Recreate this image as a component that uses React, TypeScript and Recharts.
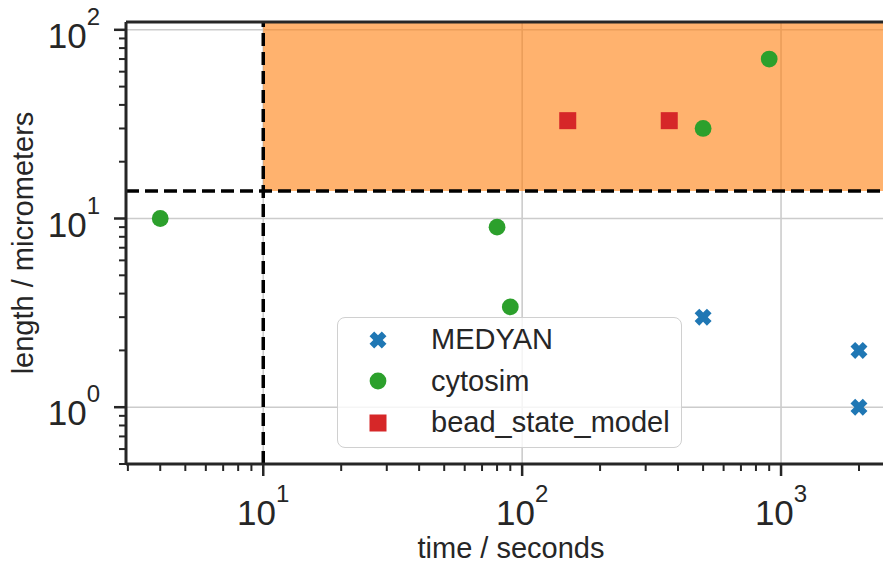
import React from "react";
import {
  ScatterChart,
  Scatter,
  XAxis,
  YAxis,
  ReferenceLine,
  ReferenceArea,
  Label,
} from "recharts";

// measured simulation runs: time in seconds, filament length in micrometers
const medyanTime = [500, 2000, 2000];
const medyanLength = [3, 2, 1];
const cytosimTime = [4, 80, 90, 500, 900];
const cytosimLength = [10, 9, 3.4, 30, 70];
const beadTime = [150, 370];
const beadLength = [33, 33];

// target regime: beyond these limits
const timeCutoff = 10;
const lengthCutoff = 14;

const xDomain = [2.95, 2780];
const yDomain = [0.5, 110];

const xMajorTicks = [10, 100, 1000];
const xMinorTicks = [3, 4, 5, 6, 7, 8, 9, 20, 30, 40, 50, 60, 70, 80, 90, 200, 300, 400, 500, 600, 700, 800, 900, 2000];
const yMajorTicks = [1, 10, 100];
const yMinorTicks = [0.5, 0.6, 0.7, 0.8, 0.9, 2, 3, 4, 5, 6, 7, 8, 9, 20, 30, 40, 50, 60, 70, 80, 90];

const FONT = '"Liberation Sans", Arial, Helvetica, sans-serif';
const INK = "#262626";
const GRID = "#cccccc";

const toPoints = (xs: number[], ys: number[]) => xs.map((x, i) => ({ x, y: ys[i] }));

function XMarker({ cx, cy, color }: { cx: number; cy: number; color: string }) {
  const t = 3.3;
  const l = 8.7;
  const pts = [
    [t, l], [t, t], [l, t], [l, -t], [t, -t], [t, -l],
    [-t, -l], [-t, -t], [-l, -t], [-l, t], [-t, t], [-t, l],
  ]
    .map(([a, b]) => `${cx + a},${cy + b}`)
    .join(" ");
  return <polygon points={pts} fill={color} transform={`rotate(45 ${cx} ${cy})`} />;
}

function CircleMarker({ cx, cy, color }: { cx: number; cy: number; color: string }) {
  return <circle cx={cx} cy={cy} r={8.4} fill={color} />;
}

function SquareMarker({ cx, cy, color }: { cx: number; cy: number; color: string }) {
  return <rect x={cx - 8.5} y={cy - 8.5} width={17} height={17} fill={color} />;
}

const series = [
  { name: "MEDYAN", color: "#1f77b4", Marker: XMarker, data: toPoints(medyanTime, medyanLength) },
  { name: "cytosim", color: "#2ca02c", Marker: CircleMarker, data: toPoints(cytosimTime, cytosimLength) },
  { name: "bead_state_model", color: "#d62728", Marker: SquareMarker, data: toPoints(beadTime, beadLength) },
];

function Pow10({ v }: { v: number }) {
  return (
    <>
      <tspan>10</tspan>
      <tspan dy={-23} fontSize={24}>
        {Math.round(Math.log10(v))}
      </tspan>
    </>
  );
}

function XTick(props: any) {
  const { x, y, payload } = props;
  const major = xMajorTicks.includes(payload.value);
  return (
    <g>
      <line x1={x} x2={x} y1={y} y2={y + (major ? 12 : 7)} stroke={INK} strokeWidth={major ? 2.5 : 2} />
      {major && (
        <text x={x} y={y + 61} textAnchor="middle" fontSize={35} fill={INK} fontFamily={FONT}>
          <Pow10 v={payload.value} />
        </text>
      )}
    </g>
  );
}

function YTick(props: any) {
  const { x, y, payload } = props;
  const major = yMajorTicks.includes(payload.value);
  return (
    <g>
      <line x1={x - (major ? 12 : 7)} x2={x} y1={y} y2={y} stroke={INK} strokeWidth={major ? 2.5 : 2} />
      {major && (
        <text x={x - 26} y={y + 18} textAnchor="end" fontSize={35} fill={INK} fontFamily={FONT}>
          <Pow10 v={payload.value} />
        </text>
      )}
    </g>
  );
}

function LegendBox() {
  return (
    <div
      style={{
        position: "absolute",
        left: 337,
        top: 316.5,
        width: 345,
        height: 131,
        boxSizing: "border-box",
        border: `1.5px solid #d0d0d0`,
        borderRadius: 8,
        background: "rgba(255,255,255,0.8)",
        fontFamily: FONT,
        color: INK,
      }}
    >
      {series.map((s, i) => {
        const cy = 22 + i * 41.5;
        return (
          <div key={s.name}>
            <svg width={24} height={24} style={{ position: "absolute", left: 28, top: cy - 12 }}>
              <s.Marker cx={12} cy={12} color={s.color} />
            </svg>
            <div
              style={{
                position: "absolute",
                left: 93,
                top: cy - 14.5,
                fontSize: 29,
                lineHeight: "29px",
                whiteSpace: "nowrap",
              }}
            >
              {s.name}
            </div>
          </div>
        );
      })}
    </div>
  );
}

export default function App() {
  return (
    <div
      style={{
        position: "absolute",
        left: 0,
        top: 0,
        width: 883,
        height: 564,
        overflow: "hidden",
        background: "#fff",
      }}
    >
      <ScatterChart width={896} height={564} margin={{ top: 22, right: 0, bottom: 0, left: 0 }}>
        <XAxis
          dataKey="x"
          type="number"
          scale="log"
          domain={xDomain}
          allowDataOverflow
          ticks={[...xMinorTicks, ...xMajorTicks].sort((a, b) => a - b)}
          interval={0}
          tick={<XTick />}
          tickSize={0}
          tickMargin={0}
          tickLine={false}
          axisLine={{ stroke: INK, strokeWidth: 3 }}
          height={100}
        >
          <Label
            content={({ viewBox }: any) => (
              <text
                x={viewBox.x + viewBox.width / 2}
                y={viewBox.y + 94}
                textAnchor="middle"
                fontSize={29}
                fill={INK}
                fontFamily={FONT}
              >
                time / seconds
              </text>
            )}
          />
        </XAxis>
        <YAxis
          dataKey="y"
          type="number"
          scale="log"
          domain={yDomain}
          allowDataOverflow
          ticks={[...yMinorTicks, ...yMajorTicks].sort((a, b) => a - b)}
          interval={0}
          tick={<YTick />}
          tickSize={0}
          tickMargin={0}
          tickLine={false}
          axisLine={{ stroke: INK, strokeWidth: 3 }}
          width={126}
        >
          <Label
            content={({ viewBox }: any) => {
              const cx = 33;
              const cy = viewBox.y + viewBox.height / 2;
              return (
                <text
                  x={cx}
                  y={cy}
                  textAnchor="middle"
                  fontSize={29}
                  fill={INK}
                  fontFamily={FONT}
                  transform={`rotate(-90 ${cx} ${cy})`}
                >
                  length / micrometers
                </text>
              );
            }}
          />
        </YAxis>

        {xMajorTicks.map((v) => (
          <ReferenceLine key={`gx${v}`} x={v} stroke={GRID} strokeWidth={1.6} zIndex={-50} />
        ))}
        {yMajorTicks.map((v) => (
          <ReferenceLine key={`gy${v}`} y={v} stroke={GRID} strokeWidth={1.6} zIndex={-50} />
        ))}

        <ReferenceArea
          x1={timeCutoff}
          x2={xDomain[1]}
          y1={lengthCutoff}
          y2={yDomain[1]}
          fill="#ff7f0e"
          fillOpacity={0.6}
          stroke="none"
          zIndex={0}
        />
        <ReferenceLine x={timeCutoff} stroke="#000" strokeWidth={3.5} strokeDasharray="13 6" zIndex={50} />
        <ReferenceLine y={lengthCutoff} stroke="#000" strokeWidth={3.5} strokeDasharray="13 6" zIndex={50} />
        <ReferenceLine y={yDomain[1]} stroke={INK} strokeWidth={3} zIndex={500} />

        {series.map((s) => (
          <Scatter
            key={s.name}
            name={s.name}
            data={s.data}
            isAnimationActive={false}
            shape={(p: any) => <s.Marker cx={p.cx} cy={p.cy} color={s.color} />}
          />
        ))}
      </ScatterChart>
      <LegendBox />
    </div>
  );
}
